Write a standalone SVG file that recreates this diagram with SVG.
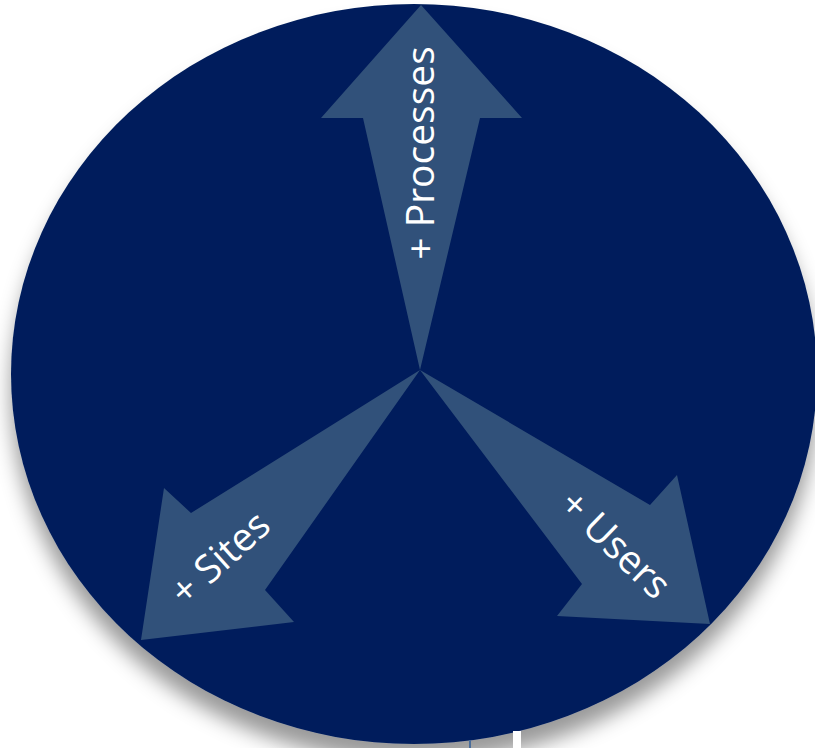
<svg xmlns="http://www.w3.org/2000/svg" width="815" height="748" viewBox="0 0 815 748">
  <defs>
    <filter id="disc-shadow" x="-10%" y="-10%" width="120%" height="125%">
      <feDropShadow dx="0" dy="18" stdDeviation="10" flood-color="#000000" flood-opacity="0.4"/>
    </filter>
  </defs>
  <style>
    .disc { fill: #011f5b; }
    .arrow { fill: #31517a; }
    .label { font-family: "Open Sans", "Liberation Sans", sans-serif; font-size: 39px; fill: #ffffff; text-anchor: middle; }
  </style>
  <rect width="815" height="748" fill="#ffffff"/>

  <!-- background disc with soft drop shadow -->
  <g id="disc">
    <ellipse class="disc" cx="414" cy="374" rx="403" ry="370" filter="url(#disc-shadow)"/>
  </g>

  <!-- three tapered arrows radiating from the centre -->
  <g id="arrow-processes">
    <polygon class="arrow" points="420,370 363,118 321,118 421,5 522,118 480,118"/>
    <text class="label" x="434" y="153" transform="rotate(-90 434 153)">+ Processes</text>
  </g>
  <g id="arrow-sites">
    <polygon class="arrow" points="420,370 191,513 164,488 141,640 294,622 265,590"/>
    <text class="label" x="229" y="568" transform="rotate(-42 229 568)">+ Sites</text>
  </g>
  <g id="arrow-users">
    <polygon class="arrow" points="420,370 650,505 677,475 710,624 557,616 582,584"/>
    <text class="label" x="606" y="554" transform="rotate(44 606 554)">+ Users</text>
  </g>

  <!-- small marks along the bottom edge -->
  <g id="marks">
    <rect x="513" y="731" width="8" height="17" fill="#ffffff"/>
    <rect x="469" y="740" width="2" height="8" fill="#4a6d9a"/>
  </g>
</svg>
